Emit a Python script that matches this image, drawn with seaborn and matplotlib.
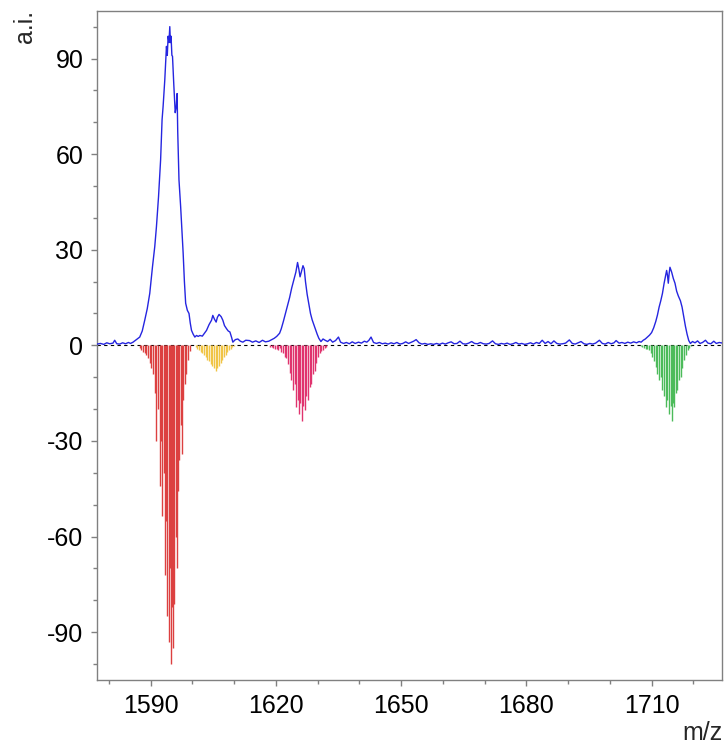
import numpy as np
import pandas as pd
import matplotlib
matplotlib.use("Agg")
import matplotlib.pyplot as plt
from matplotlib.ticker import MultipleLocator
import seaborn as sns

# ---------------- data ----------------
# measured spectrum (blue trace)
spec_mz = [1577.2, 1578.0, 1578.8, 1579.5, 1580.2, 1581.0, 1581.4, 1581.9, 1582.6, 1583.3,
           1584.0, 1584.7, 1585.2, 1585.8, 1586.6, 1587.4, 1588.0, 1588.6, 1589.2, 1589.8,
           1590.45, 1591.0, 1591.4, 1591.9, 1592.4, 1592.75, 1593.0, 1593.4, 1593.8, 1594.0,
           1594.2, 1594.4, 1594.6, 1594.75, 1594.9, 1595.1, 1595.25, 1595.55, 1595.9, 1596.15,
           1596.35, 1596.5, 1596.8, 1597.2, 1597.8, 1598.1, 1598.4, 1598.8, 1599.2, 1599.5,
           1599.8, 1600.2, 1600.6, 1601.0, 1601.4, 1601.8, 1602.4, 1602.9, 1603.4, 1604.0,
           1604.6, 1604.9, 1605.3, 1605.7, 1606.0, 1606.4, 1606.9, 1607.3, 1607.7, 1608.2,
           1608.6, 1609.0, 1609.4, 1609.7, 1610.3, 1610.9, 1611.5, 1612.1, 1612.8, 1613.7,
           1614.4, 1615.2, 1616.0, 1616.8, 1617.5, 1618.3, 1619.0, 1619.6, 1620.2, 1620.9,
           1621.3, 1621.8, 1622.3, 1622.8, 1623.3, 1623.8, 1624.3, 1624.8, 1625.2, 1625.5,
           1625.8, 1626.1, 1626.5, 1626.8, 1627.1, 1627.5, 1627.9, 1628.3, 1628.7, 1629.1,
           1629.5, 1629.9, 1630.3, 1630.8, 1631.3, 1631.8, 1632.4, 1633.0, 1633.6, 1634.3,
           1635.0, 1635.5, 1636.2, 1636.9, 1637.6, 1638.3, 1639.0, 1639.8, 1640.5, 1641.2,
           1641.8, 1642.3, 1642.8, 1643.4, 1644.1, 1644.8, 1645.5, 1646.2, 1646.9, 1647.6,
           1648.3, 1649.0, 1649.7, 1650.4, 1651.1, 1651.8, 1652.5, 1653.0, 1653.6, 1654.3,
           1655.0, 1655.7, 1656.4, 1657.1, 1657.8, 1658.5, 1659.2, 1659.9, 1660.6, 1661.3,
           1662.0, 1662.7, 1663.4, 1664.1, 1664.8, 1665.5, 1666.2, 1666.9, 1667.6, 1668.3,
           1669.0, 1669.7, 1670.4, 1671.1, 1671.9, 1672.6, 1673.3, 1674.0, 1674.7, 1675.4,
           1676.1, 1676.8, 1677.5, 1678.2, 1678.9, 1679.6, 1680.3, 1681.0, 1681.7, 1682.4,
           1683.1, 1683.8, 1684.5, 1685.2, 1685.9, 1686.6, 1687.3, 1688.0, 1688.7, 1689.4,
           1690.3, 1691.0, 1691.7, 1692.4, 1693.1, 1693.8, 1694.5, 1695.2, 1695.9, 1696.6,
           1697.5, 1698.2, 1698.9, 1699.6, 1700.3, 1701.0, 1701.5, 1702.2, 1702.9, 1703.6,
           1704.3, 1705.0, 1705.7, 1706.4, 1707.0, 1707.5, 1708.0, 1708.5, 1709.0, 1709.5,
           1710.0, 1710.5, 1711.0, 1711.4, 1711.8, 1712.2, 1712.6, 1713.0, 1713.3, 1713.6,
           1713.8, 1714.0, 1714.2, 1714.4, 1714.8, 1715.2, 1715.6, 1716.0, 1716.4, 1716.9,
           1717.3, 1717.7, 1718.1, 1718.5, 1718.9, 1719.3, 1719.8, 1720.4, 1721.0, 1721.6,
           1722.2, 1722.9, 1723.5, 1724.2, 1724.9, 1725.5, 1726.2, 1727.0]
spec_int = [0.4, 0.6, 0.3, 0.8, 0.5, 0.7, 1.6, 0.5, 0.4, 0.8,
            0.5, 0.9, 0.6, 1.0, 1.8, 2.6, 4.5, 7.9, 11.5, 16.3,
            24.6, 31.0, 37.2, 46.6, 58.2, 70.8, 75.0, 83.3, 93.8, 91.0,
            97.0, 95.0, 100.0, 95.0, 97.0, 91.0, 90.7, 82.0, 73.0, 75.0,
            79.0, 67.0, 51.9, 43.5, 28.9, 20.0, 13.2, 11.0, 10.0, 7.0,
            4.7, 3.5, 2.6, 3.1, 2.8, 3.1, 2.9, 3.8, 4.7, 6.5,
            7.9, 9.4, 8.2, 7.3, 8.8, 9.7, 9.0, 7.9, 6.2, 5.2,
            4.5, 4.2, 2.5, 1.0, 1.8, 2.0, 1.3, 1.0, 1.6, 1.5,
            1.0, 1.4, 0.9, 1.6, 1.1, 1.3, 1.8, 2.2, 2.8, 3.8,
            5.2, 7.5, 10.0, 12.5, 15.0, 18.0, 20.5, 23.0, 26.0, 24.0,
            21.5, 23.0, 25.0, 24.0, 20.0, 16.0, 13.0, 10.0, 8.0, 6.5,
            5.0, 3.5, 2.2, 1.2, 2.0, 1.6, 1.2, 1.9, 1.0, 1.5,
            2.6, 1.0, 0.6, 0.9, 0.5, 1.1, 0.6, 1.0, 0.7, 1.3,
            1.0, 1.6, 2.6, 0.9, 0.6, 0.9, 0.5, 0.7, 0.4, 0.8,
            0.5, 0.9, 0.4, 0.6, 1.1, 0.6, 1.0, 1.3, 1.8, 0.8,
            0.4, 0.6, 0.3, 0.5, 0.3, 0.6, 0.3, 0.7, 0.4, 0.8,
            1.1, 0.5, 0.6, 1.3, 0.5, 0.4, 0.7, 1.2, 0.6, 0.5,
            0.9, 0.5, 0.4, 0.6, 1.4, 0.5, 0.3, 0.6, 0.4, 0.7,
            0.3, 0.5, 0.9, 0.4, 0.6, 0.3, 0.5, 0.8, 0.4, 0.9,
            0.6, 1.6, 0.6, 1.2, 0.5, 1.4, 0.6, 0.4, 0.5, 0.7,
            1.7, 0.6, 0.4, 0.8, 1.2, 0.5, 0.3, 0.6, 0.4, 0.7,
            1.6, 0.6, 0.4, 0.9, 0.5, 0.8, 1.5, 0.7, 0.9, 0.6,
            1.0, 0.7, 1.1, 0.8, 1.2, 1.0, 1.6, 2.0, 2.6, 3.2,
            4.0, 5.5, 7.5, 9.5, 12.0, 14.0, 16.3, 19.5, 21.5, 23.5,
            22.0, 19.5, 22.5, 24.5, 23.0, 21.0, 19.5, 17.0, 15.5, 14.0,
            12.0, 9.0, 6.0, 3.5, 1.5, 0.6, 1.2, 0.8, 1.4, 0.6,
            0.9, 1.6, 0.7, 0.5, 1.3, 0.6, 0.9, 0.7]

# theoretical isotope sticks (mirrored, negative)
red_mz = [1587.4, 1587.8, 1588.2, 1588.6, 1589.0, 1589.4, 1589.8, 1590.2, 1590.6, 1591.0,
          1591.4, 1591.8, 1592.2, 1592.5, 1592.8, 1593.1, 1593.4, 1593.7, 1594.0, 1594.3,
          1594.6, 1594.8, 1595.1, 1595.4, 1595.7, 1596.0, 1596.3, 1596.6, 1596.9, 1597.2,
          1597.5, 1597.8, 1598.2, 1598.6, 1599.0, 1599.5]
red_int = [-0.8, -1.5, -2.0, -2.5, -3.0, -4.0, -5.5, -7.0, -9.0, -15.0,
           -30.0, -20.0, -44.0, -30.0, -53.5, -40.0, -72.0, -55.0, -85.0, -93.0,
           -70.0, -100.0, -82.0, -95.0, -81.0, -60.0, -70.0, -45.6, -36.0, -25.0,
           -34.0, -17.0, -12.0, -9.0, -4.7, -1.7]

yellow_mz = [1600.8, 1601.2, 1601.6, 1602.0, 1602.4, 1602.8, 1603.2, 1603.6, 1604.0, 1604.4,
             1604.8, 1605.2, 1605.6, 1606.0, 1606.4, 1606.8, 1607.2, 1607.6, 1608.0, 1608.4,
             1608.8, 1609.2, 1609.6, 1610.0]
yellow_int = [-0.5, -1.0, -1.5, -2.0, -2.5, -3.0, -3.5, -4.5, -5.0, -6.0,
              -6.5, -7.2, -7.9, -7.0, -6.5, -5.5, -4.5, -3.8, -3.0, -2.2,
              -1.5, -1.0, -0.6, -0.3]

pink_mz = [1618.6, 1619.0, 1619.4, 1619.8, 1620.2, 1620.6, 1620.9, 1621.3, 1621.7, 1622.1,
           1622.5, 1622.9, 1623.3, 1623.7, 1624.1, 1624.5, 1624.9, 1625.2, 1625.5, 1625.9,
           1626.3, 1626.6, 1626.9, 1627.3, 1627.7, 1628.1, 1628.5, 1628.9, 1629.3, 1629.7,
           1630.1, 1630.5, 1630.9, 1631.3, 1631.7, 1632.1]
pink_int = [-0.4, -0.6, -0.8, -1.0, -1.2, -1.5, -0.7, -2.0, -2.5, -3.5,
            -4.0, -6.0, -8.8, -11.0, -14.0, -12.0, -19.4, -17.0, -21.5, -18.0,
            -23.6, -19.0, -20.4, -16.0, -17.3, -13.0, -12.0, -9.0, -7.9, -5.5,
            -3.7, -2.5, -1.8, -1.5, -0.8, -0.4]

green_mz = [1707.4, 1707.8, 1708.2, 1708.6, 1709.0, 1709.4, 1709.8, 1710.2, 1710.6, 1711.0,
            1711.4, 1711.8, 1712.2, 1712.6, 1713.0, 1713.4, 1713.8, 1714.2, 1714.6, 1714.9,
            1715.2, 1715.4, 1715.8, 1716.2, 1716.6, 1717.0, 1717.4, 1717.8, 1718.2, 1718.6,
            1719.0, 1719.4]
green_int = [-0.3, -0.6, -0.8, -1.0, -1.2, -1.6, -2.5, -3.7, -5.0, -6.8,
             -9.0, -11.0, -10.0, -14.0, -16.0, -19.4, -17.0, -21.4, -19.0, -23.6,
             -18.0, -19.4, -15.0, -14.0, -11.0, -10.0, -7.0, -4.7, -3.0, -1.6,
             -0.8, -0.3]

x_ticks = [1590, 1620, 1650, 1680, 1710]
y_ticks = [-90, -60, -30, 0, 30, 60, 90]

# ---------------- plot ----------------
sns.set_style("white")
plt.rcParams["font.family"] = ["Liberation Sans", "DejaVu Sans"]
plt.rcParams["axes.unicode_minus"] = False

fig = plt.figure(figsize=(7.25, 7.48), dpi=100)
ax = fig.add_axes([0.134, 0.0909, 0.8615, 0.8948])

ax.axhline(0, color="black", lw=0.8, ls=(0, (3, 3)), zorder=1)

stick_sets = [(red_mz, red_int, "#dc4040"),
              (yellow_mz, yellow_int, "#f0c445"),
              (pink_mz, pink_int, "#e0336e"),
              (green_mz, green_int, "#4cbb5a")]
for mz, inten, col in stick_sets:
    ax.vlines(mz, 0, inten, colors=col, lw=1.0, zorder=2)

spec_df = pd.DataFrame({"mz": spec_mz, "ai": spec_int})
sns.lineplot(data=spec_df, x="mz", y="ai", ax=ax, color="#2525e0", lw=1.0,
             zorder=3, sort=False)

ax.set_xlim(1577.2, 1726.8)
ax.set_ylim(-105, 105)
ax.set_xticks(x_ticks)
ax.set_yticks(y_ticks)
ax.xaxis.set_minor_locator(MultipleLocator(10))
ax.yaxis.set_minor_locator(MultipleLocator(10))
ax.tick_params(which="both", direction="out", color="#808080", width=1.0,
               labelsize=18, labelcolor="black")
ax.tick_params(which="major", length=4, pad=6)
ax.tick_params(which="minor", length=3)
ax.tick_params(axis="both", which="both", bottom=True, left=True)
ax.set_xlabel("")
ax.set_ylabel("")
for s in ax.spines.values():
    s.set_color("#808080")
    s.set_linewidth(1.0)

fig.text(0.035, 0.964, "a.i.", rotation=90, ha="center", va="center", fontsize=18)
fig.text(0.996, 0.020, "m/z", ha="right", va="center", fontsize=18)

fig.savefig("out.png", dpi=100)
